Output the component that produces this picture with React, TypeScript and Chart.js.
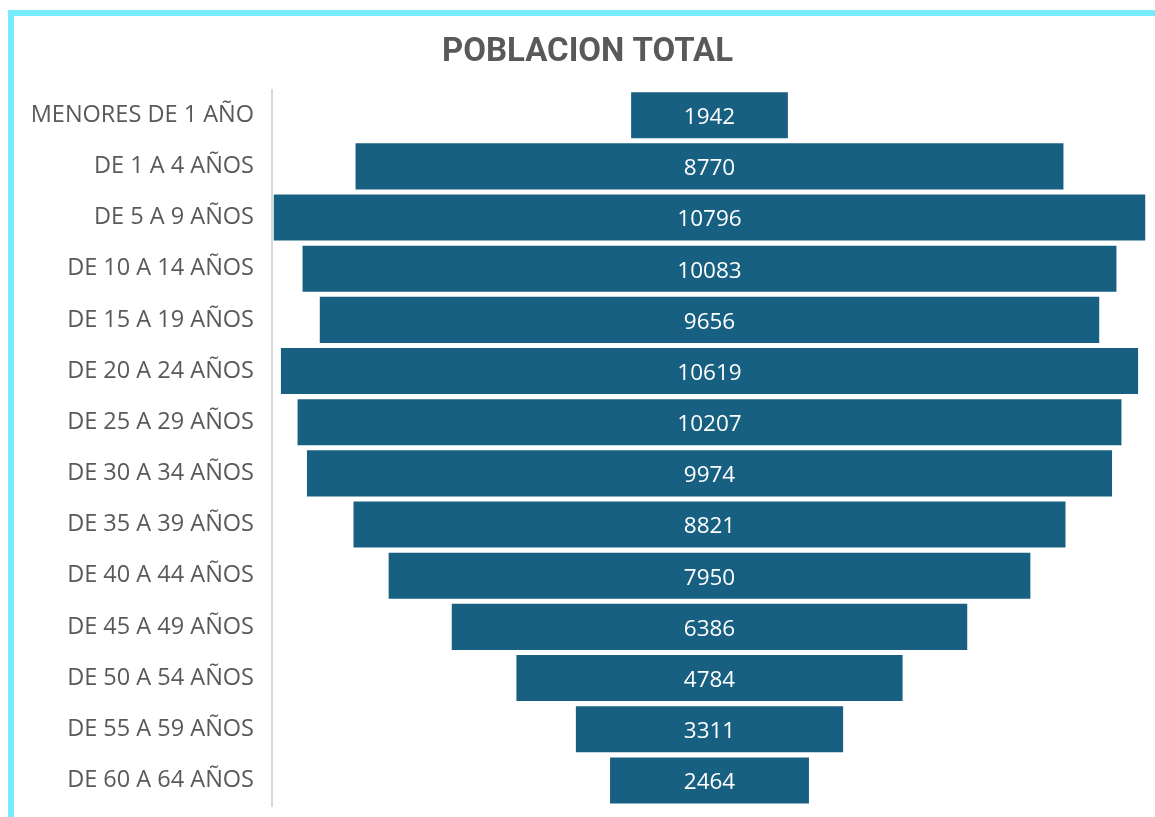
import React, { useEffect, useRef } from "react";
import { Chart, registerables } from "chart.js";

Chart.register(...registerables);

const categories = [
  "MENORES DE 1 AÑO",
  "DE 1 A 4 AÑOS",
  "DE 5 A 9 AÑOS",
  "DE 10 A 14 AÑOS",
  "DE 15 A 19 AÑOS",
  "DE 20 A 24 AÑOS",
  "DE 25 A 29 AÑOS",
  "DE 30 A 34 AÑOS",
  "DE 35 A 39 AÑOS",
  "DE 40 A 44 AÑOS",
  "DE 45 A 49 AÑOS",
  "DE 50 A 54 AÑOS",
  "DE 55 A 59 AÑOS",
  "DE 60 A 64 AÑOS",
];

const values = [1942, 8770, 10796, 10083, 9656, 10619, 10207, 9974, 8821, 7950, 6386, 4784, 3311, 2464];

const titleText = "POBLACION TOTAL";

const labelPlugin = {
  id: "centerLabels",
  afterDatasetsDraw(chart: any) {
    const ctx = chart.ctx;
    const meta = chart.getDatasetMeta(0);
    ctx.save();
    ctx.fillStyle = "#ffffff";
    ctx.font = "22.5px 'Open Sans'";
    ctx.textAlign = "center";
    ctx.textBaseline = "middle";
    meta.data.forEach((el: any, i: number) => {
      const cx = (el.x + el.base) / 2;
      ctx.fillText(String(values[i]), cx, el.y + 2.5);
    });
    ctx.restore();
  },
};

export default function App() {
  const ref = useRef<HTMLCanvasElement>(null);
  useEffect(() => {
    if (!ref.current) return;
    const chart = new Chart(ref.current, {
      type: "bar",
      data: {
        labels: categories,
        datasets: [
          {
            data: values.map((v) => [-v / 2, v / 2]) as any,
            backgroundColor: "#176082",
            borderWidth: 0,
            barPercentage: 0.9,
            categoryPercentage: 1,
          },
        ],
      },
      options: {
        indexAxis: "y",
        animation: false,
        responsive: false,
        maintainAspectRatio: false,
        layout: { padding: { left: 28, right: 8, top: 0, bottom: 11 } },
        plugins: {
          legend: { display: false },
          tooltip: { enabled: false },
          title: {
            display: true,
            text: titleText,
            color: "#595959",
            font: { family: "Roboto", size: 33, weight: "bold" },
            padding: { top: 33, bottom: 17 },
          },
        },
        scales: {
          x: { display: false, min: -5420, max: 5420 },
          y: {
            grid: { display: false, drawTicks: false },
            border: { display: true, color: "#d9d9d9", width: 2 },
            ticks: {
              color: "#595959",
              font: { family: "Open Sans", size: 23.5 },
              padding: 18,
              autoSkip: false,
            },
            afterFit(scale: any) {
              scale.width = 244;
              scale.paddingTop = 0;
              scale.paddingBottom = 0;
            },
          },
        },
      },
      plugins: [labelPlugin],
    });
    return () => chart.destroy();
  }, []);
  return (
    <div style={{ position: "fixed", left: 0, top: 0, width: 1155, height: 817, background: "#fff" }}>
      <canvas ref={ref} width={1155} height={817} style={{ position: "absolute", left: 0, top: 0 }} />
      <div style={{ position: "absolute", left: 8, top: 10, width: 1147, height: 6, background: "#76ecfc" }} />
      <div style={{ position: "absolute", left: 8, top: 10, width: 6, height: 807, background: "#76ecfc" }} />
    </div>
  );
}
